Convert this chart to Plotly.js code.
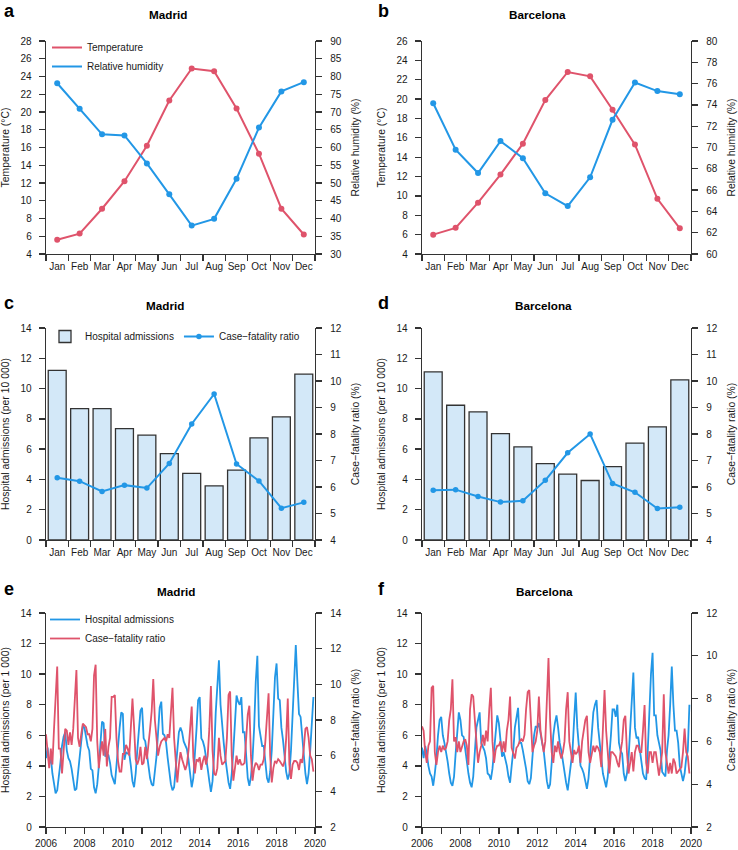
<!DOCTYPE html>
<html><head><meta charset="utf-8">
<script src="https://cdn.plot.ly/plotly-3.0.1.min.js"></script>
<style>html,body{margin:0;padding:0;background:#fff}#chart{width:738px;height:850px}</style>
</head><body><div id="chart"></div>
<script>
// ---------- data ----------
const months = ['Jan','Feb','Mar','Apr','May','Jun','Jul','Aug','Sep','Oct','Nov','Dec'];

const madridTemp = [5.6, 6.3, 9.1, 12.2, 16.2, 21.3, 24.9, 24.6, 20.4, 15.3, 9.1, 6.2];
const madridHum  = [78.1, 70.9, 63.7, 63.4, 55.5, 46.8, 38.0, 39.9, 51.2, 65.6, 75.8, 78.4];
const barcelonaTemp = [6.0, 6.7, 9.3, 12.2, 15.4, 19.9, 22.8, 22.35, 18.9, 15.3, 9.7, 6.65];
const barcelonaHum  = [74.15, 69.8, 67.6, 70.6, 69.0, 65.7, 64.5, 67.2, 72.6, 76.1, 75.3, 75.0];

const madridAdm = [11.2, 8.68, 8.68, 7.36, 6.92, 5.71, 4.4, 3.58, 4.62, 6.75, 8.13, 10.95];
const madridCfr = [6.35, 6.22, 5.83, 6.07, 5.96, 6.89, 8.38, 9.51, 6.87, 6.23, 5.2, 5.42];
const barcelonaAdm = [11.1, 8.9, 8.46, 7.03, 6.15, 5.05, 4.35, 3.93, 4.84, 6.4, 7.47, 10.58];
const barcelonaCfr = [5.88, 5.9, 5.64, 5.43, 5.48, 6.25, 7.29, 8.0, 6.13, 5.8, 5.19, 5.24];

const years = [2006,2007,2008,2009,2010,2011,2012,2013,2014,2015,2016,2017,2018,2019];
const yearTicks = [2006,2007,2008,2009,2010,2011,2012,2013,2014,2015,2016,2017,2018,2019,2020];
const yearTickText = ['2006','','2008','','2010','','2012','','2014','','2016','','2018','','2020'];

// monthly series, one row per year (Jan..Dec)
const madridMonthlyAdm = [
 4.5, 5.2, 4.1, 4.6, 3.5, 2.7, 2.2, 2.4, 3.2, 4.2, 5.3, 5.9,
 6.2, 5.0, 4.5, 4.3, 3.8, 3.0, 2.4, 2.5, 3.5, 4.6, 5.8, 6.6,
 6.5, 5.8, 5.3, 5.0, 3.8, 3.7, 2.6, 2.2, 2.8, 4.0, 5.5, 6.9,
 6.8, 4.6, 4.8, 4.7, 4.2, 3.4, 3.1, 2.8, 4.0, 5.5, 6.5, 7.5,
 7.4, 4.4, 4.9, 4.8, 4.8, 4.0, 3.0, 2.6, 3.5, 5.0, 6.6, 7.6,
 7.8, 5.8, 5.6, 4.6, 4.0, 3.2, 2.8, 2.7, 3.5, 4.6, 6.2, 7.8,
 8.2, 6.1, 6.0, 5.5, 4.5, 3.6, 2.8, 2.4, 2.6, 3.8, 5.2, 6.2,
 6.5, 6.2, 5.6, 5.3, 5.1, 4.4, 3.5, 2.6, 3.2, 4.5, 6.4, 8.3,
 8.5, 5.8, 5.6, 5.2, 4.6, 3.8, 3.0, 2.3, 3.0, 4.8, 7.5, 9.0,
 10.9, 8.0, 6.5, 5.5, 4.5, 3.5, 2.9, 2.5, 3.5, 5.0, 6.8, 8.6,
 8.2, 8.0, 8.5, 6.2, 6.2, 4.5, 3.2, 2.7, 3.3, 4.5, 6.5, 9.5,
 11.2, 6.6, 6.0, 5.3, 5.3, 4.0, 3.2, 2.9, 3.6, 5.0, 7.2, 9.8,
 10.7, 8.4, 8.3, 6.5, 5.7, 4.5, 3.6, 3.1, 3.5, 5.0, 7.5, 9.5,
 11.9, 9.5, 7.4, 7.2, 6.0, 4.5, 3.5, 2.8, 3.5, 5.0, 7.0, 8.5
];
const madridMonthlyCfr = [
 7.2, 6.2, 5.3, 6.4, 5.5, 7.5, 9.5, 11.0, 6.4, 6.4, 5.0, 6.5,
 7.5, 7.4, 6.6, 7.3, 6.6, 7.5, 9.0, 10.8, 7.0, 6.5, 7.2, 7.8,
 7.7, 7.6, 7.2, 7.2, 6.8, 7.5, 10.5, 11.1, 6.8, 5.3, 6.2, 6.8,
 6.0, 7.5, 5.4, 6.5, 7.0, 9.3, 9.3, 9.4, 7.0, 5.7, 5.1, 5.1,
 6.1, 6.1, 6.6, 6.4, 6.0, 7.5, 9.2, 7.6, 5.8, 5.5, 5.8, 6.5,
 5.5, 5.6, 6.5, 5.8, 6.5, 7.5, 8.5, 10.3, 8.0, 6.8, 6.0, 6.5,
 6.8, 6.9, 7.0, 6.8, 7.2, 7.0, 8.5, 9.8, 7.0, 5.5, 4.5, 5.5,
 6.2, 5.8, 5.5, 5.2, 5.5, 6.3, 7.5, 8.75, 5.9, 5.0, 5.8, 5.7,
 5.9, 5.2, 5.7, 6.0, 5.5, 6.0, 7.5, 9.9, 6.3, 5.0, 4.9, 5.3,
 7.0, 6.0, 5.5, 5.6, 5.7, 7.0, 9.4, 9.6, 6.0, 4.6, 5.3, 6.0,
 5.5, 5.8, 5.5, 5.5, 5.6, 6.8, 8.3, 8.8, 6.0, 4.6, 5.3, 5.6,
 5.5, 5.2, 5.5, 5.5, 5.8, 6.8, 8.0, 9.5, 6.0, 4.5, 5.3, 5.7,
 5.6, 5.8, 5.7, 5.5, 5.4, 5.7, 7.0, 9.2, 5.5, 4.7, 5.5, 5.7,
 5.7, 5.6, 5.2, 5.8, 5.6, 6.4, 7.5, 7.6, 7.0, 6.0, 5.8, 5.1
];
const barcelonaMonthlyAdm = [
 5.2, 4.5, 5.3, 4.8, 4.0, 3.5, 3.3, 2.7, 3.5, 4.5, 6.0, 7.0,
 7.2, 6.0, 5.5, 5.0, 4.3, 3.5, 2.9, 2.7, 3.3, 4.8, 6.3, 7.5,
 7.0, 6.0, 5.9, 5.0, 4.0, 3.5, 2.9, 2.6, 3.3, 4.8, 6.5, 7.0,
 7.5, 5.5, 5.2, 5.0, 4.5, 3.5, 3.4, 3.1, 3.8, 5.0, 6.5, 7.3,
 6.8, 5.5, 4.6, 4.9, 4.5, 4.0, 3.3, 2.9, 4.0, 5.0, 6.5, 7.2,
 7.8, 5.5, 5.5, 5.0, 4.5, 3.8, 3.0, 2.8, 3.2, 4.5, 6.0, 6.6,
 6.5, 6.8, 6.0, 5.5, 5.0, 4.0, 3.0, 2.5, 2.8, 4.2, 6.0, 6.8,
 7.3, 6.5, 5.5, 5.0, 4.2, 3.5, 2.9, 2.4, 3.2, 3.9, 5.0, 7.0,
 8.8, 6.5, 5.0, 4.0, 3.8, 3.5, 3.0, 2.5, 3.2, 4.5, 6.0, 7.5,
 8.0, 8.3, 6.5, 5.2, 4.5, 3.5, 3.0, 2.6, 3.3, 4.5, 6.0, 7.7,
 7.7, 7.2, 8.0, 5.5, 5.0, 4.8, 3.5, 3.0, 3.5, 4.5, 6.5, 9.0,
 10.1, 6.5, 5.8, 5.9, 5.0, 4.5, 3.5, 3.2, 3.1, 5.0, 8.0, 10.0,
 11.4, 7.3, 7.3, 6.0, 5.5, 5.0, 3.6, 3.4, 3.3, 5.0, 6.0, 8.0,
 10.5, 8.0, 6.3, 6.3, 5.5, 4.0, 3.5, 3.0, 3.5, 4.5, 5.0, 8.0
];
const barcelonaMonthlyCfr = [
 6.7, 6.5, 5.5, 5.0, 5.8, 6.0, 8.5, 8.6, 5.5, 4.9, 5.5, 5.8,
 5.5, 5.8, 5.6, 5.7, 6.0, 7.0, 7.5, 8.9, 6.0, 6.2, 5.5, 6.0,
 5.5, 5.8, 6.0, 6.1, 5.8, 4.9, 7.5, 8.2, 8.1, 7.0, 6.0, 5.0,
 5.5, 5.8, 6.3, 5.8, 6.5, 6.0, 7.5, 8.5, 6.0, 5.0, 5.6, 5.8,
 5.8, 6.0, 5.5, 6.0, 5.5, 6.5, 7.0, 8.1, 5.7, 5.5, 5.2, 5.7,
 5.8, 6.0, 6.1, 6.0, 6.3, 7.5, 8.3, 8.4, 7.0, 5.5, 5.8, 6.0,
 6.5, 8.1, 6.5, 6.0, 5.5, 6.0, 8.0, 9.9, 7.0, 5.5, 5.0, 5.8,
 5.5, 6.0, 5.5, 5.2, 5.5, 6.0, 7.5, 8.3, 6.0, 5.5, 5.0, 5.6,
 5.4, 5.5, 5.8, 5.0, 6.0, 6.5, 7.0, 7.2, 5.5, 5.0, 5.5, 5.8,
 5.5, 5.8, 5.7, 5.5, 4.8, 6.5, 8.4, 6.5, 5.5, 4.5, 5.5, 5.5,
 5.4, 5.3, 5.0, 4.8, 5.5, 6.0, 7.0, 7.2, 5.5, 4.5, 5.0, 5.5,
 4.6, 5.5, 5.8, 5.8, 5.5, 5.5, 6.5, 7.7, 5.0, 4.5, 5.5, 5.5,
 5.0, 5.5, 5.5, 4.8, 4.4, 4.9, 5.5, 8.2, 5.5, 5.0, 4.5, 5.0,
 4.5, 5.2, 5.0, 4.5, 4.6, 4.7, 4.8, 5.5, 6.6, 5.5, 5.3, 4.5
];

// ---------- styling ----------
const RED = '#DF536B', BLUE = '#2297E6', BARFILL = '#D3E8F8', INK = '#333333', TXT = '#1a1a1a';
const FONT = '"Liberation Sans", Arial, Helvetica, sans-serif';
const W = 738, H = 850;
const px = v => v / W, py = v => 1 - v / H;
const colL = [px(46), px(315)], colR = [px(422), px(691)];
const rowA = [py(254), py(41)], rowC = [py(540), py(328)], rowE = [py(827), py(613)];

// decimal time for monthly series
const tMonthly = [];
years.forEach(y => months.forEach((m, i) => tMonthly.push(y + i / 12)));

function base() {
  return {showline: true, linecolor: INK, linewidth: 1.3, ticks: 'outside', ticklen: 6, tickwidth: 1.3,
    tickcolor: INK, tickfont: {family: FONT, size: 10, color: TXT}, showgrid: false, zeroline: false, fixedrange: true};
}
function catX(domain, anchor) {
  return Object.assign(base(), {domain, anchor, type: 'category', tickson: 'boundaries', range: [-0.5, 11.5], tickangle: 0, ticklabelstandoff: 3});
}
function timeX(domain, anchor) {
  return Object.assign(base(), {domain, anchor, range: [2006, 2020], tickmode: 'array', tickvals: yearTicks, ticktext: yearTickText, tickangle: 0, ticklabelstandoff: 1});
}
function ttl(text, so) { return {text, font: {family: FONT, size: 10.4, color: TXT}, standoff: so}; }
function leftY(domain, anchor, range, dtick, title) {
  return Object.assign(base(), {domain, anchor, range, tickmode: 'linear', tick0: range[0], dtick,
    ticklabelstandoff: 5, title: ttl(title, 9)});
}
function rightY(overlaying, anchor, range, dtick, title) {
  return Object.assign(base(), {overlaying, anchor, side: 'right', range, tickmode: 'linear', tick0: range[0], dtick,
    ticklabelstandoff: 6, title: ttl(title, 11)});
}

// ---------- traces ----------
const lm = (x, y, xa, ya, color, name, extra) => Object.assign({x, y, xaxis: xa, yaxis: ya, type: 'scatter', mode: 'lines+markers',
  name, line: {color, width: 2}, marker: {color, size: 6}, showlegend: false, hoverinfo: 'skip'}, extra || {});
const ln = (x, y, xa, ya, color, name, extra) => Object.assign({x, y, xaxis: xa, yaxis: ya, type: 'scatter', mode: 'lines',
  name, line: {color, width: 1.8}, showlegend: false, hoverinfo: 'skip'}, extra || {});
const bar = (x, y, xa, ya, extra) => Object.assign({x, y, xaxis: xa, yaxis: ya, type: 'bar', name: 'Hospital admissions',
  marker: {color: BARFILL, line: {color: INK, width: 1.3}}, showlegend: false, hoverinfo: 'skip'}, extra || {});

const traces = [
  // a
  lm(months, madridTemp, 'x', 'y', RED, 'Temperature'),
  lm(months, madridHum, 'x', 'y2', BLUE, 'Relative humidity'),
  ln([null], [null], 'x', 'y', RED, 'Temperature', {showlegend: true, legend: 'legend', line: {color: RED, width: 2}}),
  ln([null], [null], 'x', 'y', BLUE, 'Relative humidity', {showlegend: true, legend: 'legend', line: {color: BLUE, width: 2}}),
  // b
  lm(months, barcelonaTemp, 'x2', 'y3', RED, 'Temperature'),
  lm(months, barcelonaHum, 'x2', 'y4', BLUE, 'Relative humidity'),
  // c
  bar(months, madridAdm, 'x3', 'y5', {showlegend: true, legend: 'legend2'}),
  lm(months, madridCfr, 'x3', 'y6', BLUE, 'Case−fatality ratio', {showlegend: true, legend: 'legend2', marker: {color: BLUE, size: 5.5}}),
  // d
  bar(months, barcelonaAdm, 'x4', 'y7'),
  lm(months, barcelonaCfr, 'x4', 'y8', BLUE, 'Case−fatality ratio', {marker: {color: BLUE, size: 5.5}}),
  // e
  ln(tMonthly, madridMonthlyAdm, 'x5', 'y9', BLUE, 'Hospital admissions', {showlegend: true, legend: 'legend3'}),
  ln(tMonthly, madridMonthlyCfr, 'x5', 'y10', RED, 'Case−fatality ratio', {showlegend: true, legend: 'legend3'}),
  // f
  ln(tMonthly, barcelonaMonthlyAdm, 'x6', 'y11', BLUE, 'Hospital admissions'),
  ln(tMonthly, barcelonaMonthlyCfr, 'x6', 'y12', RED, 'Case−fatality ratio')
];

// ---------- annotations ----------
const ann = [];
function txt(text, x, y, size, bold, anchor) {
  ann.push({text: bold ? '<b>' + text + '</b>' : text, xref: 'paper', yref: 'paper', x: px(x), y: py(y),
    xanchor: anchor || 'center', yanchor: 'middle', showarrow: false, font: {family: FONT, size, color: '#000'}});
}
txt('a', 2, 11, 18, true, 'left'); txt('b', 376, 11, 18, true, 'left');
txt('c', 2, 303, 18, true, 'left'); txt('d', 376, 303, 18, true, 'left');
txt('e', 2, 589, 18, true, 'left'); txt('f', 376, 589, 18, true, 'left');
txt('Madrid', 168, 14, 11.7, true); txt('Barcelona', 537, 14, 11.7, true);
txt('Madrid', 165, 305, 11.7, true); txt('Barcelona', 543, 305, 11.7, true);
txt('Madrid', 176, 591, 11.7, true); txt('Barcelona', 544, 591, 11.7, true);

const legFont = {family: FONT, size: 10, color: TXT};
const layout = {
  width: W, height: H, margin: {l: 0, r: 0, t: 0, b: 0}, paper_bgcolor: '#fff', plot_bgcolor: 'rgba(0,0,0,0)',
  font: {family: FONT, color: TXT}, bargap: 0.2, showlegend: true, hovermode: false,
  xaxis: catX(colL, 'y'),
  yaxis: leftY(rowA, 'x', [4, 28], 2, 'Temperature (°C)'),
  yaxis2: rightY('y', 'x', [30, 90], 5, 'Relative humidity (%)'),
  xaxis2: catX(colR, 'y3'),
  yaxis3: leftY(rowA, 'x2', [4, 26], 2, 'Temperature (°C)'),
  yaxis4: rightY('y3', 'x2', [60, 80], 2, 'Relative humidity (%)'),
  xaxis3: catX(colL, 'y5'),
  yaxis5: leftY(rowC, 'x3', [0, 14], 2, 'Hospital admissions (per 10 000)'),
  yaxis6: rightY('y5', 'x3', [4, 12], 1, 'Case−fatality ratio (%)'),
  xaxis4: catX(colR, 'y7'),
  yaxis7: leftY(rowC, 'x4', [0, 14], 2, 'Hospital admissions (per 10 000)'),
  yaxis8: rightY('y7', 'x4', [4, 12], 1, 'Case−fatality ratio (%)'),
  xaxis5: timeX(colL, 'y9'),
  yaxis9: leftY(rowE, 'x5', [0, 14], 2, 'Hospital admissions (per 1 000)'),
  yaxis10: rightY('y9', 'x5', [2, 14], 2, 'Case−fatality ratio (%)'),
  xaxis6: timeX(colR, 'y11'),
  yaxis11: leftY(rowE, 'x6', [0, 14], 2, 'Hospital admissions (per 1 000)'),
  yaxis12: rightY('y11', 'x6', [2, 12], 2, 'Case−fatality ratio (%)'),
  legend: {x: px(47), y: py(33), xanchor: 'left', yanchor: 'top', bgcolor: 'rgba(0,0,0,0)', borderwidth: 0, font: legFont},
  legend2: {x: px(45), y: py(322), xanchor: 'left', yanchor: 'top', orientation: 'h', bgcolor: 'rgba(0,0,0,0)', borderwidth: 0, font: legFont},
  legend3: {x: px(45), y: py(605), xanchor: 'left', yanchor: 'top', bgcolor: 'rgba(0,0,0,0)', borderwidth: 0, font: legFont},
  annotations: ann
};

Plotly.newPlot('chart', traces, layout, {displayModeBar: false, staticPlot: true});
</script>
</body></html>
